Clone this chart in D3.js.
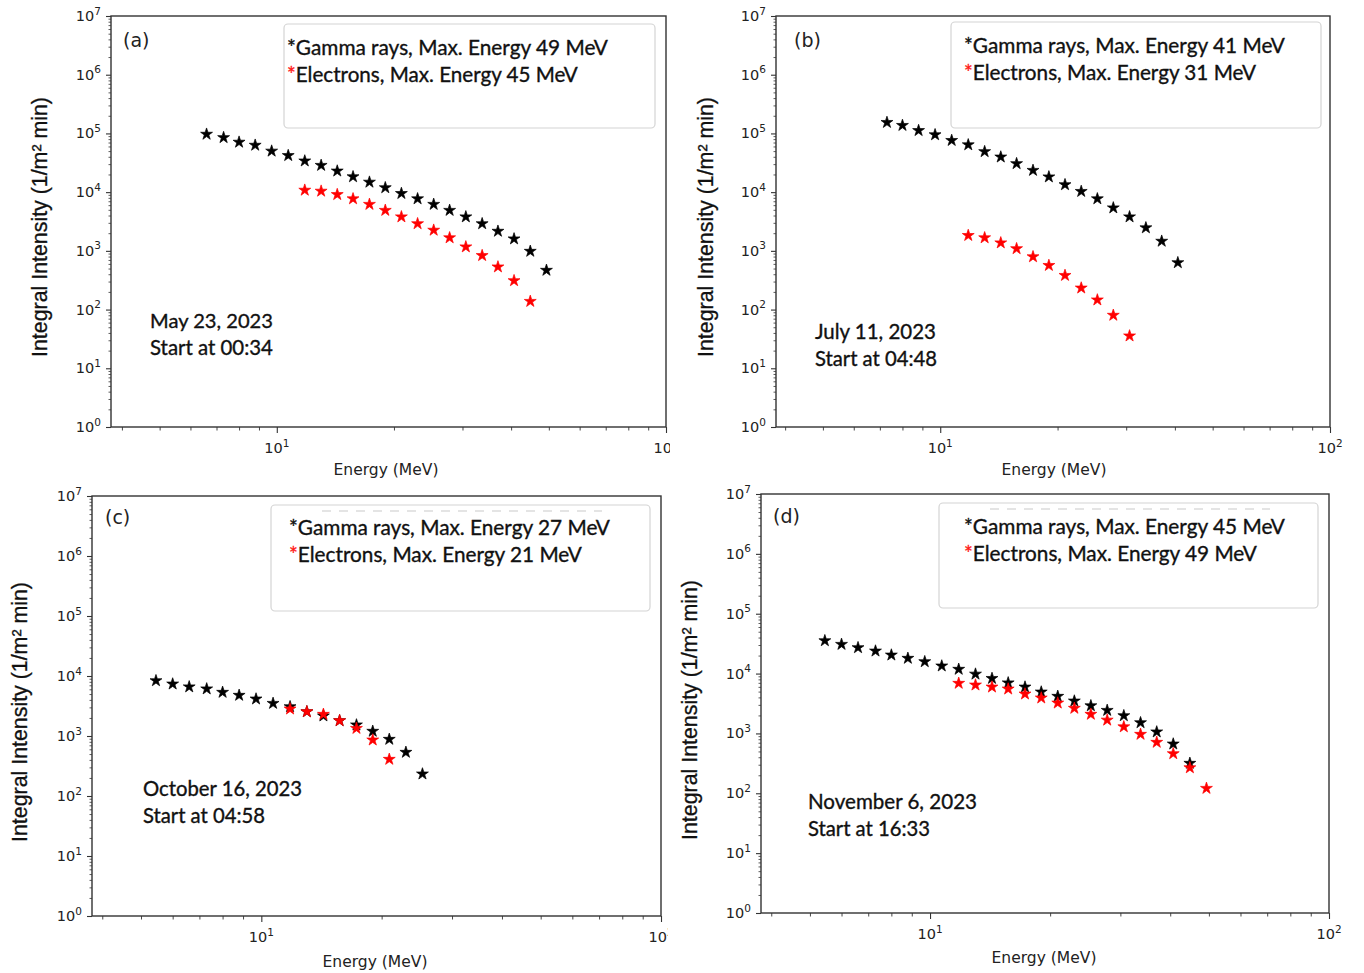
<!DOCTYPE html>
<html><head><meta charset="utf-8">
<script src="https://cdn.jsdelivr.net/npm/d3@7"></script>
<style>body{margin:0;background:#fff}svg{display:block}</style>
</head><body>
<svg id="chart" width="1364" height="973"></svg>
<script>
// ---------------- data ----------------
const panelIds = ["(a)", "(b)", "(c)", "(d)"];

const gammaE_a = [6.6,7.3,8.0,8.8,9.7,10.7,11.8,13.0,14.3,15.7,17.3,19.0,20.9,23.0,25.3,27.8,30.6,33.7,37.0,40.7,44.8,49.3];
const gammaI_a = [97000,85000,71000,63000,50000,42000,34000,28600,22900,18300,14800,11900,9500,7700,6200,4900,3800,2900,2160,1600,984,467];
const elecE_a  = [11.8,13.0,14.3,15.7,17.3,19.0,20.9,23.0,25.3,27.8,30.6,33.7,37.0,40.7,44.8];
const elecI_a  = [10800,10400,9100,7700,6200,4900,3800,2900,2250,1670,1170,832,533,311,138];

const gammaE_b = [7.3,8.0,8.8,9.7,10.7,11.8,13.0,14.3,15.7,17.3,19.0,20.9,23.0,25.3,27.8,30.6,33.7,37.0,40.7];
const gammaI_b = [154000,137000,112000,95000,76000,64000,49000,39700,30600,23500,18200,13400,10300,7700,5400,3800,2470,1460,629];
const elecE_b  = [11.8,13.0,14.3,15.7,17.3,19.0,20.9,23.0,25.3,27.8,30.6];
const elecI_b  = [1830,1670,1370,1090,794,565,382,233,146,80,35.6];

const gammaE_c = [5.45,6.0,6.6,7.3,8.0,8.8,9.7,10.7,11.8,13.0,14.3,15.7,17.3,19.0,20.9,23.0,25.3];
const gammaI_c = [8350,7360,6600,6100,5350,4770,4140,3500,3080,2540,2160,1800,1530,1200,881,535,233];
const elecE_c  = [11.8,13.0,14.3,15.7,17.3,19.0,20.9];
const elecI_c  = [2820,2540,2300,1800,1340,858,409];

const gammaE_d = [5.45,6.0,6.6,7.3,8.0,8.8,9.7,10.7,11.8,13.0,14.3,15.7,17.3,19.0,20.9,23.0,25.3,27.8,30.6,33.7,37.0,40.7,44.8];
const gammaI_d = [35400,30800,27100,23800,20400,18000,15800,13400,11800,9800,8300,7000,5960,4920,4170,3480,2900,2430,1980,1510,1060,666,317];
const elecE_d  = [11.8,13.0,14.3,15.7,17.3,19.0,20.9,23.0,25.3,27.8,30.6,33.7,37.0,40.7,44.8,49.3];
const elecI_d  = [6880,6440,5960,5520,4560,3910,3220,2630,2090,1670,1290,967,711,459,267,121];

const legendGamma = ["Gamma rays, Max. Energy 49 MeV","Gamma rays, Max. Energy 41 MeV","Gamma rays, Max. Energy 27 MeV","Gamma rays, Max. Energy 45 MeV"];
const legendElec  = ["Electrons, Max. Energy 45 MeV","Electrons, Max. Energy 31 MeV","Electrons, Max. Energy 21 MeV","Electrons, Max. Energy 49 MeV"];
const dateLabels  = ["May 23, 2023","July 11, 2023","October 16, 2023","November 6, 2023"];
const startLabels = ["Start at 00:34","Start at 04:48","Start at 04:58","Start at 16:33"];

const yTickExps = [0,1,2,3,4,5,6,7];
const xTickExps = [1,2];
const yTitle = "Integral Intensity (1/m\u00B2 min)";
const xTitle = "Energy (MeV)";

// ---------------- layout ----------------
const series = [
  {gE:gammaE_a, gI:gammaI_a, eE:elecE_a, eI:elecI_a},
  {gE:gammaE_b, gI:gammaI_b, eE:elecE_b, eI:elecI_b},
  {gE:gammaE_c, gI:gammaI_c, eE:elecE_c, eI:elecI_c},
  {gE:gammaE_d, gI:gammaI_d, eE:elecE_d, eI:elecI_d}
];
const layout = [
  {l:111,r:666,t:16,b:427,xmin:3.75,clip:670,yt:{x:40,cy:227},xt:{cx:386,y:475},lab:{x:123,y:47},
   leg:{x:284,y:24,w:371,h:104,tx:287,b1:55,b2:82,w1:321,w2:291},note:{x:150,b1:328,b2:355,w1:123,w2:123},dash:null},
  {l:776,r:1330,t:16,b:427,xmin:3.79,clip:1364,yt:{x:706,cy:227},xt:{cx:1054,y:475},lab:{x:794,y:47},
   leg:{x:951,y:22,w:370,h:106,tx:964,b1:53,b2:80,w1:321,w2:292},note:{x:815,b1:339,b2:366,w1:121,w2:122},dash:null},
  {l:92,r:661,t:496,b:916,xmin:3.77,clip:668,yt:{x:20,cy:712},xt:{cx:375,y:967},lab:{x:105,y:524},
   leg:{x:271,y:505,w:379,h:106,tx:289,b1:535,b2:562,w1:321,w2:293},note:{x:143,b1:796,b2:823,w1:159,w2:122},dash:{x1:322,x2:602,y:511}},
  {l:761,r:1329,t:494,b:913,xmin:3.77,clip:1364,yt:{x:690,cy:710},xt:{cx:1044,y:963},lab:{x:773,y:523},
   leg:{x:939,y:503,w:379,h:105,tx:964,b1:534,b2:561,w1:321,w2:293},note:{x:808,b1:809,b2:836,w1:169,w2:122},dash:{x1:990,x2:1270,y:509}}
];

const svg = d3.select("#chart");
const axisColor = "#333";
const tickFont = "'DejaVu Sans', sans-serif";
const bodyFont = "Lato, 'Open Sans', sans-serif";

function fitWidth(sel, target) {
  const node = sel.node();
  const fs = parseFloat(sel.attr("font-size"));
  const w = node.getComputedTextLength();
  if (w > 0) sel.attr("font-size", (fs * target / w).toFixed(2));
}

layout.forEach((L, i) => {
  const S = series[i];
  const clipId = "clip" + i;
  svg.append("clipPath").attr("id", clipId).append("rect")
    .attr("x", L.clip - 700).attr("y", L.t - 40).attr("width", 700).attr("height", 520);
  const g = svg.append("g").attr("clip-path", `url(#${clipId})`);

  const x = d3.scaleLog().domain([L.xmin, 100]).range([L.l, L.r]);
  const y = d3.scaleLog().domain([1, 1e7]).range([L.b, L.t]);

  // frame
  g.append("rect").attr("x", L.l).attr("y", L.t).attr("width", L.r - L.l).attr("height", L.b - L.t)
    .attr("fill", "#fff").attr("stroke", axisColor).attr("stroke-width", 1.4);

  // y ticks
  const yMinor = [];
  for (let e = 0; e < 7; e++) for (let k = 2; k <= 9; k++) yMinor.push(k * Math.pow(10, e));
  const yMajor = yTickExps.map(e => Math.pow(10, e));
  g.append("g").attr("transform", `translate(${L.l},0)`)
    .call(d3.axisLeft(y).tickValues(yMajor).tickSize(5).tickFormat(""))
    .call(a => a.select(".domain").remove())
    .call(a => a.selectAll("line").attr("stroke", axisColor).attr("stroke-width", 1.1));
  g.append("g").attr("transform", `translate(${L.l},0)`)
    .call(d3.axisLeft(y).tickValues(yMinor).tickSize(2.5).tickFormat(""))
    .call(a => a.select(".domain").remove())
    .call(a => a.selectAll("line").attr("stroke", axisColor).attr("stroke-width", 0.8));
  yTickExps.forEach(e => {
    const t = g.append("text").attr("x", L.l - 10).attr("y", y(Math.pow(10, e)) + 5)
      .attr("text-anchor", "end").attr("font-family", tickFont).attr("font-size", 14.5).attr("fill", "#222");
    t.append("tspan").text("10");
    t.append("tspan").attr("dy", -6.5).attr("font-size", 10.5).text(e);
  });

  // x ticks
  const xMinor = [];
  [1, 10].forEach(m => { for (let k = 2; k <= 9; k++) { const v = k * m; if (v > L.xmin && v < 100) xMinor.push(v); } });
  const xMajor = xTickExps.map(e => Math.pow(10, e));
  g.append("g").attr("transform", `translate(0,${L.b})`)
    .call(d3.axisBottom(x).tickValues(xMajor).tickSize(6).tickFormat(""))
    .call(a => a.select(".domain").remove())
    .call(a => a.selectAll("line").attr("stroke", axisColor).attr("stroke-width", 1.1));
  g.append("g").attr("transform", `translate(0,${L.b})`)
    .call(d3.axisBottom(x).tickValues(xMinor).tickSize(3.5).tickFormat(""))
    .call(a => a.select(".domain").remove())
    .call(a => a.selectAll("line").attr("stroke", axisColor).attr("stroke-width", 0.9));
  xTickExps.forEach(e => {
    const t = g.append("text").attr("x", x(Math.pow(10, e))).attr("y", L.b + 26)
      .attr("text-anchor", "middle").attr("font-family", tickFont).attr("font-size", 14.5).attr("fill", "#222");
    t.append("tspan").text("10");
    t.append("tspan").attr("dy", -6.5).attr("font-size", 10.5).text(e);
  });

  // axis titles
  const yt = g.append("text").attr("transform", `translate(${L.yt.x},${L.yt.cy}) rotate(-90)`)
    .attr("text-anchor", "middle").attr("dy", "0.35em")
    .attr("font-family", "'Liberation Sans', Arial, sans-serif").attr("font-size", 20).attr("fill", "#111")
    .attr("stroke", "#111").attr("stroke-width", 0.3)
    .text(yTitle);
  fitWidth(yt, 260);
  const xt = g.append("text").attr("x", L.xt.cx).attr("y", L.xt.y).attr("text-anchor", "middle")
    .attr("font-family", tickFont).attr("font-size", 15).attr("fill", "#222").text(xTitle);
  fitWidth(xt, 105);

  // panel label
  g.append("text").attr("x", L.lab.x).attr("y", L.lab.y)
    .attr("font-family", "'DejaVu Sans', sans-serif").attr("font-size", 19).attr("fill", "#222")
    .text(panelIds[i]);

  // legend
  g.append("rect").attr("x", L.leg.x).attr("y", L.leg.y).attr("width", L.leg.w).attr("height", L.leg.h)
    .attr("rx", 4).attr("fill", "#fff").attr("stroke", "#d4d4d4").attr("stroke-width", 1.2);
  if (L.dash) {
    g.append("line").attr("x1", L.dash.x1).attr("x2", L.dash.x2).attr("y1", L.dash.y).attr("y2", L.dash.y)
      .attr("stroke", "#dcdcdc").attr("stroke-width", 1.5).attr("stroke-dasharray", "9,8");
  }
  const l1 = g.append("text").attr("x", L.leg.tx).attr("y", L.leg.b1)
    .attr("font-family", bodyFont).attr("font-size", 21).attr("fill", "#111")
    .attr("stroke", "#111").attr("stroke-width", 0.35);
  l1.append("tspan").text("*");
  l1.append("tspan").text(legendGamma[i]);
  fitWidth(l1, L.leg.w1);
  const l2 = g.append("text").attr("x", L.leg.tx).attr("y", L.leg.b2)
    .attr("font-family", bodyFont).attr("font-size", 21).attr("fill", "#111")
    .attr("stroke", "#111").attr("stroke-width", 0.35);
  l2.append("tspan").attr("fill", "#ff1a1a").attr("stroke", "#ff1a1a").text("*");
  l2.append("tspan").text(legendElec[i]);
  fitWidth(l2, L.leg.w2);

  // annotation
  const n1 = g.append("text").attr("x", L.note.x).attr("y", L.note.b1)
    .attr("font-family", bodyFont).attr("font-size", 20).attr("fill", "#111")
    .attr("stroke", "#111").attr("stroke-width", 0.35).text(dateLabels[i]);
  fitWidth(n1, L.note.w1);
  const n2 = g.append("text").attr("x", L.note.x).attr("y", L.note.b2)
    .attr("font-family", bodyFont).attr("font-size", 20).attr("fill", "#111")
    .attr("stroke", "#111").attr("stroke-width", 0.35).text(startLabels[i]);
  fitWidth(n2, L.note.w2);

  // markers
  const star = d3.symbol().type(d3.symbolStar).size(44);
  g.append("g").selectAll("path").data(S.gE.map((e, j) => [e, S.gI[j]])).join("path")
    .attr("d", star).attr("transform", d => `translate(${x(d[0])},${y(d[1])})`)
    .attr("fill", "#000").attr("stroke", "#000").attr("stroke-width", 0.7);
  g.append("g").selectAll("path").data(S.eE.map((e, j) => [e, S.eI[j]])).join("path")
    .attr("d", star).attr("transform", d => `translate(${x(d[0])},${y(d[1])})`)
    .attr("fill", "#ff0000").attr("stroke", "#ff0000").attr("stroke-width", 0.7);
});
</script>
</body></html>
